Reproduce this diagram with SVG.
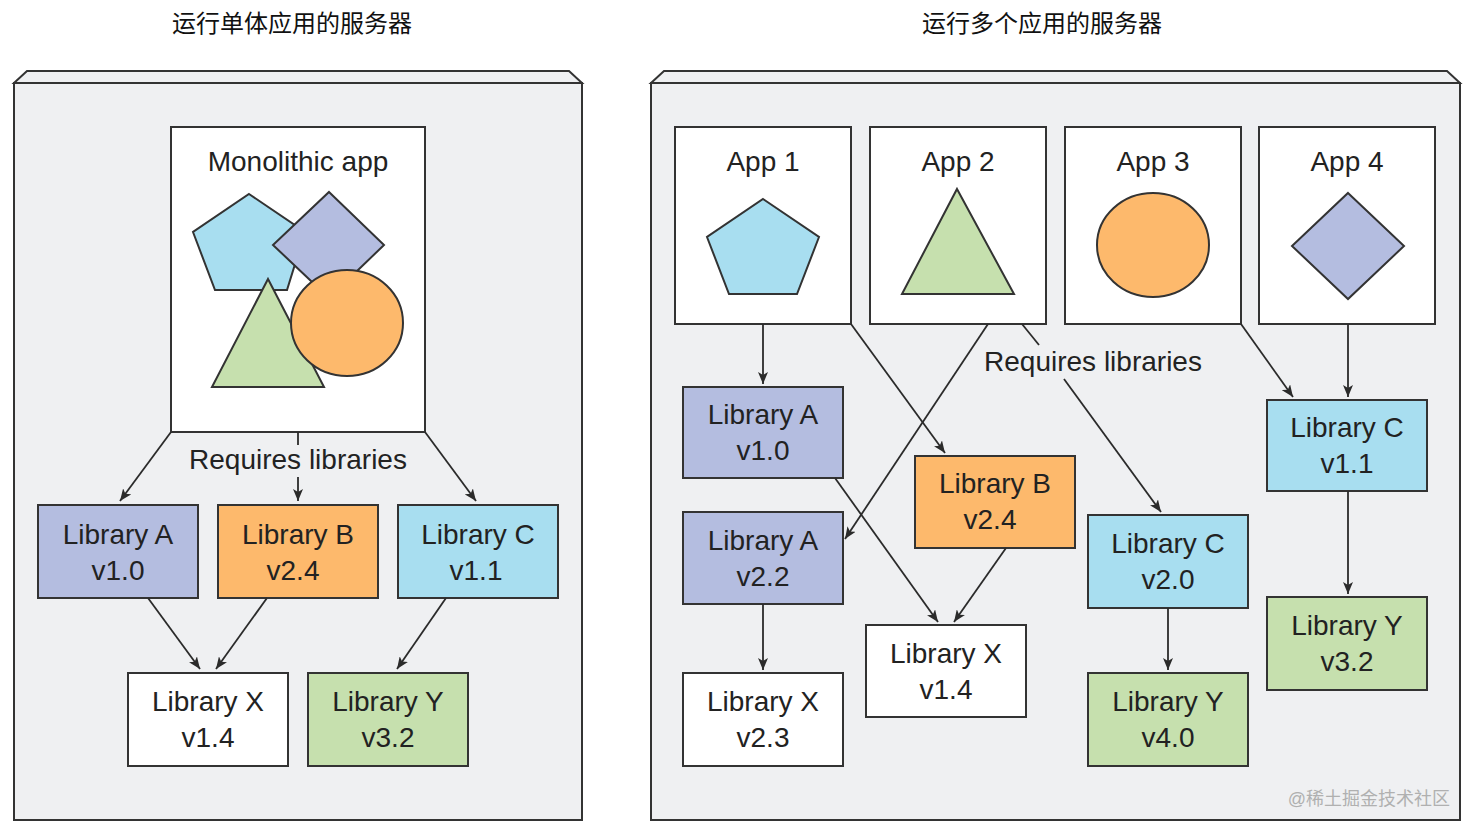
<svg xmlns="http://www.w3.org/2000/svg" width="1474" height="832" viewBox="0 0 1474 832">
<defs>
<marker id="arr" viewBox="0 0 12 10" refX="12" refY="5" markerWidth="12" markerHeight="10" markerUnits="userSpaceOnUse" orient="auto">
<path d="M0,0 L12,5 L0,10 L3,5 z" fill="#2b2b2b"/>
</marker>
<style>
.srv{fill:#eff0f2;stroke:#333;stroke-width:2}
.box{stroke:#333;stroke-width:2}
.w{fill:#fff}
.la{fill:#b4bde0}
.lb{fill:#fdb96c}
.lc{fill:#a8def0}
.ly{fill:#c6e0ae}
.shape{stroke:#333;stroke-width:2}
.t{font-family:"Liberation Sans",Arial,sans-serif;font-size:28px;fill:#222;text-anchor:middle}
.title{font-family:"Liberation Sans","Noto Sans CJK SC",sans-serif;font-size:24px;fill:#111;text-anchor:middle}
.wm{font-family:"Liberation Sans","Noto Sans CJK SC",sans-serif;font-size:18px;fill:#b0b0b0;text-anchor:end}
.c{stroke:#2b2b2b;stroke-width:1.8;fill:none}
.ca{stroke:#2b2b2b;stroke-width:1.8;fill:none;marker-end:url(#arr)}
</style>
</defs>
<rect width="1474" height="832" fill="#fff"/>

<text class="title" x="292" y="32">运行单体应用的服务器</text>
<text class="title" x="1042" y="32">运行多个应用的服务器</text>

<g id="server-left">
<polygon class="srv" points="14,83 27,71 569,71 582,83"/>
<rect class="srv" x="14" y="83" width="568" height="737"/>
</g>
<g id="server-right">
<polygon class="srv" points="651,83 664,71 1447,71 1460,83"/>
<rect class="srv" x="651" y="83" width="809" height="737"/>
</g>

<g id="monolithic-app">
<rect class="box w" x="171" y="127" width="254" height="305"/>
<text class="t" x="298" y="171">Monolithic app</text>
<polygon class="shape lc" points="249,194 305,232 287,290 215,290 193,232"/>
<polygon class="shape la" points="329,192 384,245 329,298 273,245"/>
<polygon class="shape ly" points="268,279 324,387 212,387"/>
<ellipse class="shape lb" cx="347" cy="323" rx="56" ry="53"/>
</g>

<g id="left-libA"><rect class="box la" x="38" y="505" width="160" height="93"/><text class="t" x="118" y="544">Library A</text><text class="t" x="118" y="580">v1.0</text></g>
<g id="left-libB"><rect class="box lb" x="218" y="505" width="160" height="93"/><text class="t" x="298" y="544">Library B</text><text class="t" x="293" y="580">v2.4</text></g>
<g id="left-libC"><rect class="box lc" x="398" y="505" width="160" height="93"/><text class="t" x="478" y="544">Library C</text><text class="t" x="476" y="580">v1.1</text></g>
<g id="left-libX"><rect class="box w" x="128" y="673" width="160" height="93"/><text class="t" x="208" y="711">Library X</text><text class="t" x="208" y="747">v1.4</text></g>
<g id="left-libY"><rect class="box ly" x="308" y="673" width="160" height="93"/><text class="t" x="388" y="711">Library Y</text><text class="t" x="388" y="747">v3.2</text></g>

<g id="app1"><rect class="box w" x="675" y="127" width="176" height="197"/><text class="t" x="763" y="171">App 1</text>
<polygon class="shape lc" points="763,199 819,237 797,294 729,294 707,237"/></g>
<g id="app2"><rect class="box w" x="870" y="127" width="176" height="197"/><text class="t" x="958" y="171">App 2</text>
<polygon class="shape ly" points="957,189 1014,294 902,294"/></g>
<g id="app3"><rect class="box w" x="1065" y="127" width="176" height="197"/><text class="t" x="1153" y="171">App 3</text>
<ellipse class="shape lb" cx="1153" cy="245" rx="56" ry="52"/></g>
<g id="app4"><rect class="box w" x="1259" y="127" width="176" height="197"/><text class="t" x="1347" y="171">App 4</text>
<polygon class="shape la" points="1348,193 1404,246 1348,299 1292,246"/></g>

<g id="r-libA10"><rect class="box la" x="683" y="387" width="160" height="91"/><text class="t" x="763" y="424">Library A</text><text class="t" x="763" y="460">v1.0</text></g>
<g id="r-libA22"><rect class="box la" x="683" y="512" width="160" height="92"/><text class="t" x="763" y="550">Library A</text><text class="t" x="763" y="586">v2.2</text></g>
<g id="r-libX23"><rect class="box w" x="683" y="673" width="160" height="93"/><text class="t" x="763" y="711">Library X</text><text class="t" x="763" y="747">v2.3</text></g>
<g id="r-libB24"><rect class="box lb" x="915" y="456" width="160" height="92"/><text class="t" x="995" y="493">Library B</text><text class="t" x="990" y="529">v2.4</text></g>
<g id="r-libX14"><rect class="box w" x="866" y="625" width="160" height="92"/><text class="t" x="946" y="663">Library X</text><text class="t" x="946" y="699">v1.4</text></g>
<g id="r-libC20"><rect class="box lc" x="1088" y="515" width="160" height="93"/><text class="t" x="1168" y="553">Library C</text><text class="t" x="1168" y="589">v2.0</text></g>
<g id="r-libY40"><rect class="box ly" x="1088" y="673" width="160" height="93"/><text class="t" x="1168" y="711">Library Y</text><text class="t" x="1168" y="747">v4.0</text></g>
<g id="r-libC11"><rect class="box lc" x="1267" y="400" width="160" height="91"/><text class="t" x="1347" y="437">Library C</text><text class="t" x="1347" y="473">v1.1</text></g>
<g id="r-libY32"><rect class="box ly" x="1267" y="597" width="160" height="93"/><text class="t" x="1347" y="635">Library Y</text><text class="t" x="1347" y="671">v3.2</text></g>

<g id="connectors">
<line class="ca" x1="171" y1="432" x2="120" y2="501"/>
<line class="c" x1="298" y1="432" x2="298" y2="445"/>
<line class="ca" x1="298" y1="477" x2="298" y2="501"/>
<line class="ca" x1="425" y1="432" x2="476" y2="501"/>
<line class="ca" x1="148" y1="598" x2="200" y2="669"/>
<line class="ca" x1="267" y1="598" x2="216" y2="669"/>
<line class="ca" x1="446" y1="598" x2="397" y2="669"/>

<line class="ca" x1="763" y1="324" x2="763" y2="384"/>
<line class="ca" x1="851" y1="324" x2="945" y2="453"/>
<line class="ca" x1="988" y1="324" x2="845" y2="539"/>
<line class="c" x1="1022" y1="324" x2="1039" y2="345"/>
<line class="ca" x1="1064" y1="379" x2="1161" y2="512"/>
<line class="ca" x1="835" y1="478" x2="938" y2="622"/>
<line class="ca" x1="1006" y1="548" x2="954" y2="622"/>
<line class="ca" x1="763" y1="604" x2="763" y2="670"/>
<line class="ca" x1="1241" y1="324" x2="1293" y2="397"/>
<line class="ca" x1="1348" y1="324" x2="1348" y2="397"/>
<line class="ca" x1="1348" y1="491" x2="1348" y2="594"/>
<line class="ca" x1="1168" y1="608" x2="1168" y2="670"/>
</g>

<text class="t" x="298" y="469">Requires libraries</text>
<text class="t" x="1093" y="371">Requires libraries</text>
<text class="wm" x="1450" y="805">@稀土掘金技术社区</text>
</svg>
